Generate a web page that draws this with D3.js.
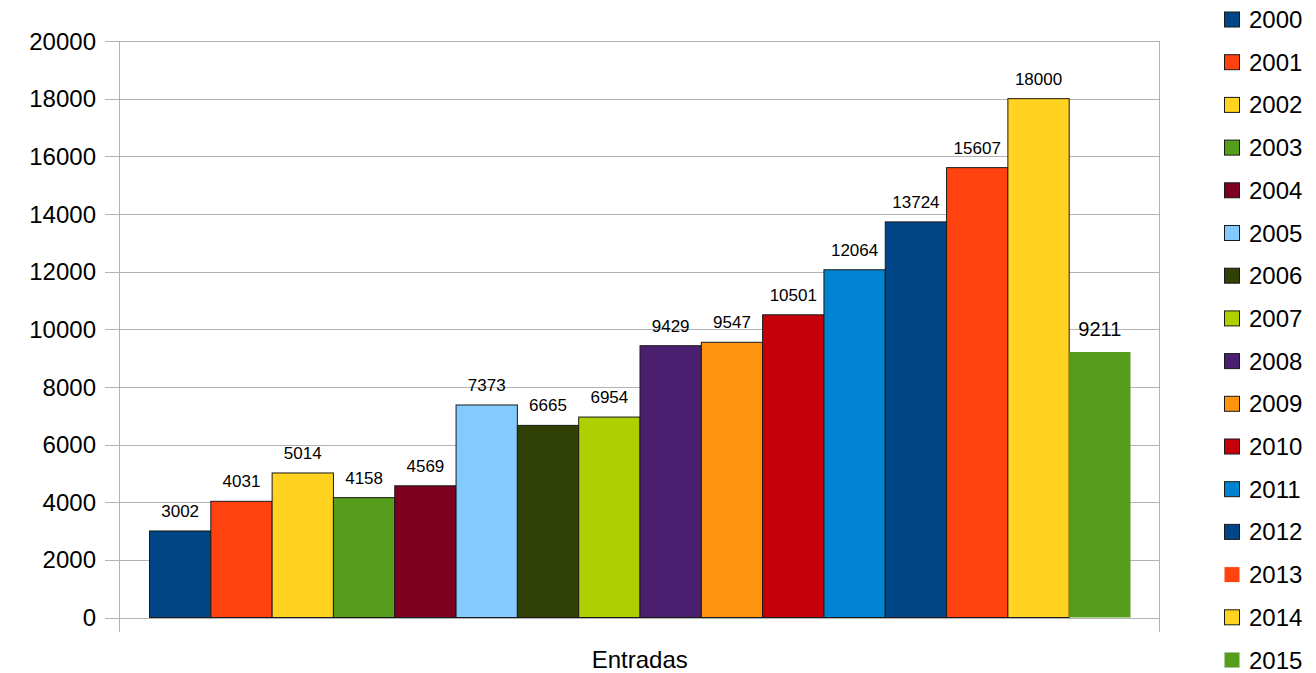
<!DOCTYPE html>
<html>
<head>
<meta charset="utf-8">
<script src="https://cdn.jsdelivr.net/npm/d3@7"></script>
<style>
  body { margin: 0; background: #fff; }
  svg { display: block; font-family: "Liberation Sans", Arial, sans-serif; }
</style>
</head>
<body>
<div id="container"></div>
<script>
// data
var years = ["2000", "2001", "2002", "2003", "2004", "2005", "2006", "2007",
             "2008", "2009", "2010", "2011", "2012", "2013", "2014", "2015"];
var entradas = [3002, 4031, 5014, 4158, 4569, 7373, 6665, 6954,
                9429, 9547, 10501, 12064, 13724, 15607, 18000, 9211];
var colors = ["#004586", "#ff420e", "#ffd320", "#579d1c", "#7e0021", "#83caff", "#314004", "#aecf00",
              "#4b1f6f", "#ff950e", "#c5000b", "#0084d1", "#004586", "#ff420e", "#ffd320", "#579d1c"];
var yTicks = [0, 2000, 4000, 6000, 8000, 10000, 12000, 14000, 16000, 18000, 20000];
var categoryLabel = "Entradas";

var width = 1316, height = 673;
var plot = { left: 119.5, right: 1160, top: 41, bottom: 617.5 };

var svg = d3.select("#container").append("svg")
    .attr("width", width)
    .attr("height", height);

var y = d3.scaleLinear().domain([0, 20000]).range([plot.bottom, plot.top]);
var x = d3.scaleBand().domain(years).range([149.5, 1130.5]).padding(0);

// grid lines
svg.append("g")
    .selectAll("line")
    .data(yTicks)
    .join("line")
    .attr("x1", 105)
    .attr("x2", plot.right)
    .attr("y1", function (d) { return Math.round(y(d)) + 0.5; })
    .attr("y2", function (d) { return Math.round(y(d)) + 0.5; })
    .attr("stroke", "#b3b3b3")
    .attr("stroke-width", 1);

// y axis labels
svg.append("g")
    .selectAll("text")
    .data(yTicks)
    .join("text")
    .attr("x", 96)
    .attr("y", function (d) { return y(d); })
    .attr("dy", "0.36em")
    .attr("text-anchor", "end")
    .attr("font-size", 24)
    .attr("fill", "#000")
    .text(function (d) { return d; });

// axis line and right border
svg.append("line")
    .attr("x1", plot.left).attr("x2", plot.left)
    .attr("y1", plot.top).attr("y2", 632)
    .attr("stroke", "#b3b3b3");
svg.append("line")
    .attr("x1", plot.right - 0.5).attr("x2", plot.right - 0.5)
    .attr("y1", plot.top).attr("y2", 632)
    .attr("stroke", "#b3b3b3");

// bars
svg.append("g")
    .selectAll("rect")
    .data(entradas)
    .join("rect")
    .attr("x", function (d, i) { return x(years[i]); })
    .attr("y", function (d) { return y(d); })
    .attr("width", x.bandwidth())
    .attr("height", function (d) { return y(0) - y(d); })
    .attr("fill", function (d, i) { return colors[i]; })
    .attr("stroke", function (d, i) { return i === 15 ? "none" : "#1a1a1a"; })
    .attr("stroke-width", 1);

// value labels
svg.append("g")
    .selectAll("text")
    .data(entradas)
    .join("text")
    .attr("x", function (d, i) { return x(years[i]) + x.bandwidth() / 2; })
    .attr("y", function (d, i) { return y(d) - (i === 15 ? 16 : 14); })
    .attr("text-anchor", "middle")
    .attr("font-size", function (d, i) { return i === 15 ? 20 : 17; })
    .attr("fill", "#000")
    .text(function (d) { return d; });

// category label
svg.append("text")
    .attr("x", (plot.left + plot.right) / 2)
    .attr("y", 668)
    .attr("text-anchor", "middle")
    .attr("font-size", 24)
    .text(categoryLabel);

// legend
var legend = svg.append("g")
    .selectAll("g")
    .data(years)
    .join("g")
    .attr("transform", function (d, i) { return "translate(1224," + (19 + i * 42.7) + ")"; });

legend.append("rect")
    .attr("x", 0.5)
    .attr("y", -7)
    .attr("width", 15)
    .attr("height", 15)
    .attr("fill", function (d, i) { return colors[i]; })
    .attr("stroke", function (d, i) { return (i === 13 || i === 15) ? "none" : "#1a1a1a"; });

legend.append("text")
    .attr("x", 25)
    .attr("y", 9)
    .attr("font-size", 24)
    .text(function (d) { return d; });
</script>
</body>
</html>
